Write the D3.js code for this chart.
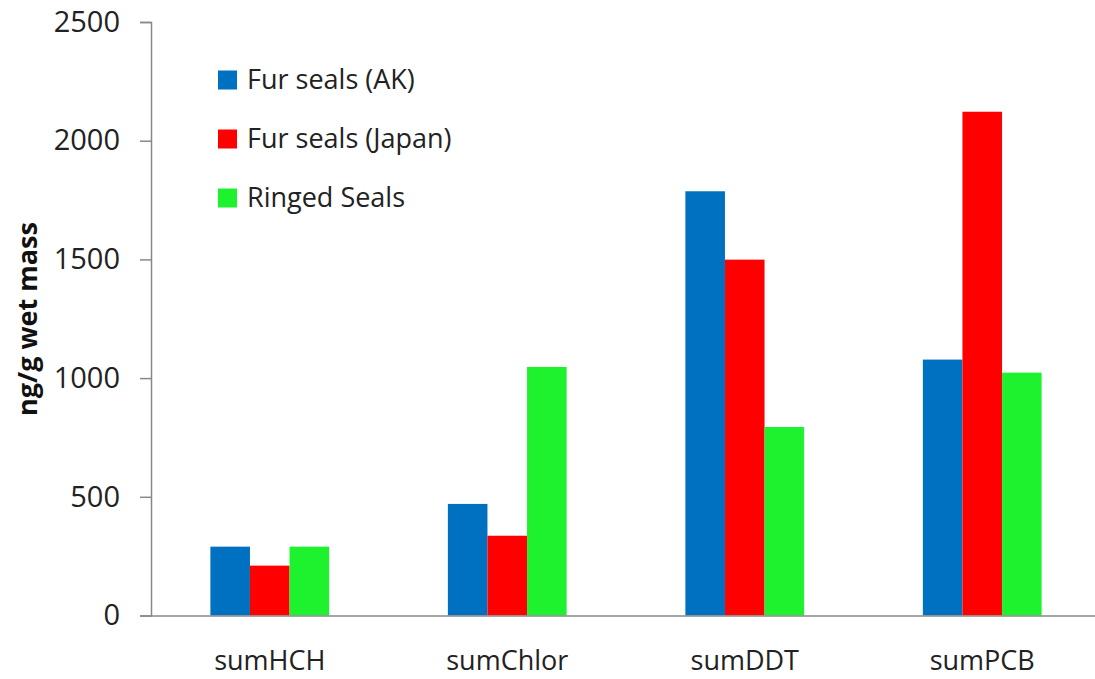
<!DOCTYPE html>
<html>
<head>
<meta charset="utf-8">
<script src="https://cdn.jsdelivr.net/npm/d3@7"></script>
<style>
  body { margin: 0; background: #fff; }
  text { font-family: 'Open Sans', 'Liberation Sans', sans-serif; fill: #222; }
</style>
</head>
<body>
<svg id="chart" width="1095" height="679"></svg>
<script>
const categories = ['sumHCH', 'sumChlor', 'sumDDT', 'sumPCB'];
const seriesNames = ['Fur seals (AK)', 'Fur seals (Japan)', 'Ringed Seals'];
const furAK = [290, 470, 1787, 1078];
const furJapan = [210, 336, 1499, 2122];
const ringed = [290, 1047, 794, 1023];
const yTicks = [0, 500, 1000, 1500, 2000, 2500];
const colors = ['#0070C0', '#FF0000', '#1EF22E'];

const series = [furAK, furJapan, ringed];

const svg = d3.select('#chart');
const mLeft = 151, mRight = 1101, mTop = 22, mBottom = 615.5;

const x0 = d3.scaleBand()
  .domain(categories)
  .range([mLeft, mRight])
  .paddingInner(0.5)
  .paddingOuter(0.25);

const x1 = d3.scaleBand()
  .domain(d3.range(series.length))
  .range([0, x0.bandwidth()]);

const y = d3.scaleLinear()
  .domain([0, 2500])
  .range([mBottom, mTop]);

// bars
categories.forEach((cat, i) => {
  svg.append('g')
    .selectAll('rect')
    .data(series.map((s, j) => ({ j, v: s[i] })))
    .join('rect')
    .attr('x', d => x0(cat) + x1(d.j))
    .attr('y', d => y(d.v))
    .attr('width', x1.bandwidth())
    .attr('height', d => mBottom - y(d.v))
    .attr('fill', d => colors[d.j]);
});

// y axis
const yAxis = svg.append('g')
  .attr('transform', `translate(${mLeft},0)`)
  .call(d3.axisLeft(y).tickValues(yTicks).tickFormat(d3.format('d')).tickSize(11).tickPadding(20));
yAxis.select('.domain').attr('stroke', '#888').attr('stroke-width', 1.5);
yAxis.selectAll('.tick line').attr('stroke', '#888').attr('stroke-width', 1.5);
yAxis.selectAll('.tick text')
  .attr('font-size', 29)
  .attr('fill', '#222')
  .attr('font-family', "'Open Sans', sans-serif");

// x axis
const xAxis = svg.append('g')
  .attr('transform', `translate(0,${mBottom})`)
  .call(d3.axisBottom(x0).tickSize(0).tickPadding(35));
xAxis.select('.domain').attr('stroke', '#888').attr('stroke-width', 1.5);
xAxis.selectAll('.tick text')
  .attr('font-size', 27)
  .attr('fill', '#222')
  .attr('font-family', "'Open Sans', sans-serif");

// y label
svg.append('text')
  .attr('transform', 'translate(37,319) rotate(-90)')
  .attr('text-anchor', 'middle')
  .attr('font-size', 27)
  .attr('font-weight', 'bold')
  .style('fill', '#111')
  .text('ng/g wet mass');

// legend
const legend = svg.append('g')
  .selectAll('g')
  .data(seriesNames)
  .join('g')
  .attr('transform', (d, i) => `translate(218,${80 + i * 59})`);

legend.append('rect')
  .attr('x', 0)
  .attr('y', -9.5)
  .attr('width', 19)
  .attr('height', 19)
  .attr('fill', (d, i) => colors[i]);

legend.append('text')
  .attr('x', 29)
  .attr('dy', '0.35em')
  .attr('font-size', 27)
  .text(d => d);
</script>
</body>
</html>
